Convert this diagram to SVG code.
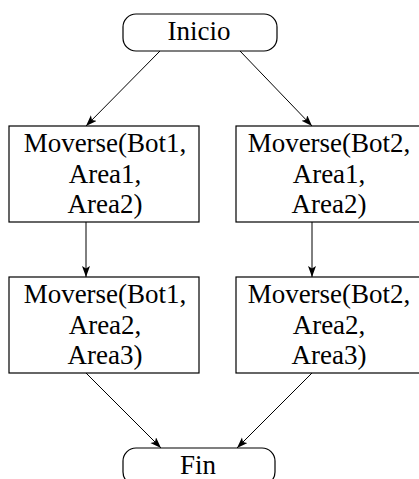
<svg xmlns="http://www.w3.org/2000/svg" width="419" height="479" viewBox="0 0 419 479">
<style>
  .box { fill: #ffffff; stroke: #000000; stroke-width: 1.2; }
  .lbl { font-family: "Liberation Serif", "Times New Roman", "DejaVu Serif", serif; font-size: 27px; fill: #000000; text-anchor: middle; }
  .edge { fill: none; stroke: #000000; stroke-width: 1; marker-end: url(#arr); }
</style>
<defs>
  <marker id="arr" markerUnits="userSpaceOnUse" markerWidth="12" markerHeight="9" refX="11" refY="4" orient="auto">
    <path d="M0,0 L11,4 L0,8 L2.5,4 Z" fill="#000000"/>
  </marker>
</defs>
<rect width="419" height="479" fill="#ffffff"/>
<g id="connectors">
  <line class="edge" x1="160" y1="51" x2="86" y2="126"/>
  <line class="edge" x1="240" y1="51" x2="312" y2="126"/>
  <line class="edge" x1="86" y1="222" x2="86" y2="277"/>
  <line class="edge" x1="312" y1="222" x2="312" y2="277"/>
  <line class="edge" x1="86" y1="373" x2="161" y2="448"/>
  <line class="edge" x1="312" y1="373" x2="237" y2="448"/>
</g>
<g id="inicio">
  <rect class="box" x="123" y="14" width="154" height="37" rx="13" ry="13"/>
  <text class="lbl" x="199" y="40" font-family="Liberation Serif, serif">Inicio</text>
</g>
<g id="bot1-a1-a2">
  <rect class="box" x="9" y="126" width="190" height="96"/>
  <text class="lbl" x="105" y="152">Moverse(Bot1,</text>
  <text class="lbl" x="105" y="183">Area1,</text>
  <text class="lbl" x="105" y="213">Area2)</text>
</g>
<g id="bot2-a1-a2">
  <rect class="box" x="236" y="126" width="200" height="96"/>
  <text class="lbl" x="329" y="152">Moverse(Bot2,</text>
  <text class="lbl" x="329" y="183">Area1,</text>
  <text class="lbl" x="329" y="213">Area2)</text>
</g>
<g id="bot1-a2-a3">
  <rect class="box" x="9" y="277" width="190" height="96"/>
  <text class="lbl" x="105" y="303">Moverse(Bot1,</text>
  <text class="lbl" x="105" y="334">Area2,</text>
  <text class="lbl" x="105" y="364">Area3)</text>
</g>
<g id="bot2-a2-a3">
  <rect class="box" x="236" y="277" width="200" height="96"/>
  <text class="lbl" x="329" y="303">Moverse(Bot2,</text>
  <text class="lbl" x="329" y="334">Area2,</text>
  <text class="lbl" x="329" y="364">Area3)</text>
</g>
<g id="fin">
  <rect class="box" x="123" y="448" width="152" height="37" rx="13" ry="13"/>
  <text class="lbl" x="198" y="474">Fin</text>
</g>
</svg>
